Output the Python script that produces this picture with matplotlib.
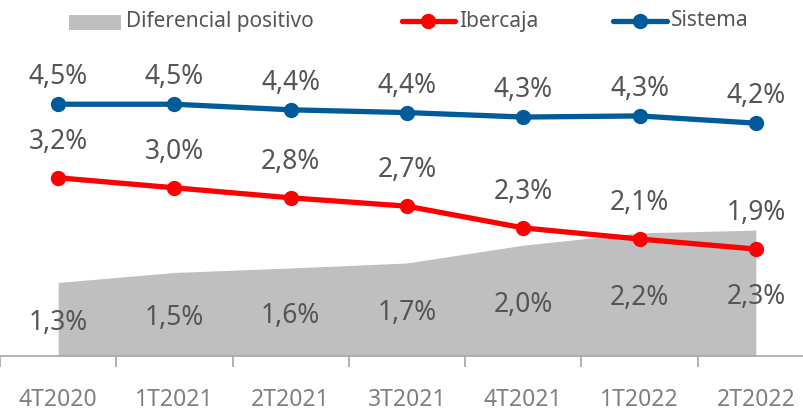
import matplotlib
matplotlib.use("Agg")
import matplotlib.pyplot as plt
from matplotlib.lines import Line2D
from matplotlib.patches import Rectangle

categories = ["4T2020", "1T2021", "2T2021", "3T2021", "4T2021", "1T2022", "2T2022"]
sistema = [4.52, 4.52, 4.42, 4.37, 4.29, 4.31, 4.18]
ibercaja = [3.20, 3.02, 2.84, 2.69, 2.30, 2.10, 1.92]
diferencial = [1.32, 1.50, 1.58, 1.67, 1.99, 2.21, 2.26]
sistema_labels = ["4,5%", "4,5%", "4,4%", "4,4%", "4,3%", "4,3%", "4,2%"]
ibercaja_labels = ["3,2%", "3,0%", "2,8%", "2,7%", "2,3%", "2,1%", "1,9%"]
diferencial_labels = ["1,3%", "1,5%", "1,6%", "1,7%", "2,0%", "2,2%", "2,3%"]
legend_labels = ["Diferencial positivo", "Ibercaja", "Sistema"]

FONT = ["Noto Sans", "DejaVu Sans"]
WEIGHT = 300
LABEL_COLOR = "#555555"
TICK_COLOR = "#808080"
RED = "#FF0000"
BLUE = "#005B9A"
GRAY = "#BFBFBF"

W, H = 804, 413
fig = plt.figure(figsize=(W / 100, H / 100), dpi=100)
ymax = 5.5
ppu = 55.7
ax_h = ymax * ppu
ax = fig.add_axes([0, (H - 356) / H, 814 / W, ax_h / H])
x = list(range(len(categories)))

ax.fill_between(x, 0, diferencial, color=GRAY, lw=0, zorder=1)
ax.plot(x, ibercaja, color=RED, lw=3.8, marker="o", ms=10, zorder=3, solid_capstyle="round")
ax.plot(x, sistema, color=BLUE, lw=3.8, marker="o", ms=10, zorder=3, solid_capstyle="round")

lab = dict(ha="center", va="center", fontsize=19, color=LABEL_COLOR, family=FONT, weight=WEIGHT,
           textcoords="offset pixels")
for i in x:
    ax.annotate(sistema_labels[i], (i, sistema[i]), xytext=(0, 27), **lab)
    ax.annotate(ibercaja_labels[i], (i, ibercaja[i]), xytext=(0, 36), **lab)
    ax.annotate(diferencial_labels[i], (i, diferencial[i] / 2), xytext=(0, -4), zorder=4, **lab)

ax.set_xlim(-0.5, 6.5)
ax.set_ylim(0, ymax)
for s in ["top", "right", "left"]:
    ax.spines[s].set_visible(False)
ax.spines["bottom"].set_color("#A6A6A6")
ax.spines["bottom"].set_linewidth(1.2)
ax.set_yticks([])
ax.set_xticks([i + 0.5 for i in range(-1, 7)], minor=False)
ax.set_xticklabels([])
ax.tick_params(axis="x", which="major", length=8, width=1.2, color="#A6A6A6")
ax.set_xticks(x, minor=True)
ax.set_xticklabels(categories, minor=True, fontsize=16.5, color=TICK_COLOR, family=FONT, weight=WEIGHT)
ax.tick_params(axis="x", which="minor", length=0, pad=32)
for t in ax.get_xticklabels(minor=True):
    t.set_va("center")

# legend drawn in figure pixel coordinates
def fy(py):
    return 1 - py / H

ly = 21
fig.patches.append(Rectangle((69 / W, fy(30)), 52 / W, 15 / H, transform=fig.transFigure,
                             facecolor=GRAY, edgecolor="none"))
for x0, x1, c in [(402, 455, RED), (613, 667, BLUE)]:
    fig.add_artist(Line2D([x0 / W, x1 / W], [fy(ly), fy(ly)], transform=fig.transFigure,
                          color=c, lw=3.8, solid_capstyle="round"))
    fig.add_artist(Line2D([(x0 + x1) / 2 / W], [fy(ly)], transform=fig.transFigure,
                          color=c, marker="o", ms=10, lw=0))
for px, t in zip([126, 459, 671], legend_labels):
    fig.text(px / W, fy(ly), t, ha="left", va="center", fontsize=15, color=LABEL_COLOR,
             family=FONT, weight=WEIGHT)

fig.savefig("out.png", dpi=100)
